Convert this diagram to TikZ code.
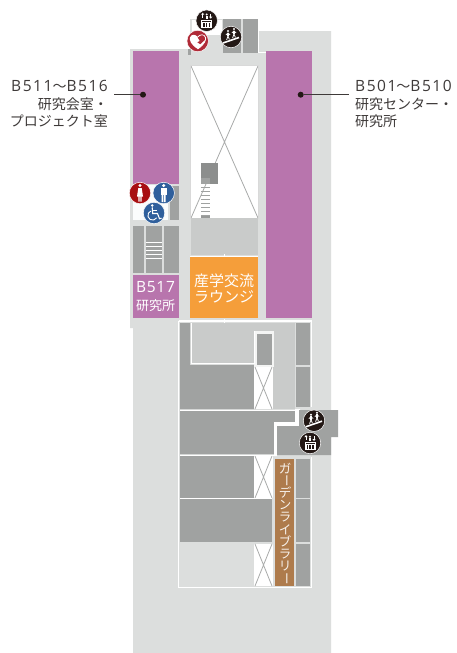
\documentclass[tikz,border=0pt]{standalone}
\usepackage{fontspec}
\setmainfont{Noto Sans CJK JP}
\newfontfamily\latinf[LetterSpace=5]{Open Sans}
\newfontfamily\latinw[LetterSpace=10]{Open Sans}
\definecolor{bgg}{HTML}{DCDEDD}
\definecolor{dkg}{HTML}{A0A2A1}
\definecolor{ltg}{HTML}{C9CBCA}
\definecolor{stg}{HTML}{8C8E8D}
\definecolor{pur}{HTML}{B875AD}
\definecolor{org}{HTML}{F59E3A}
\definecolor{brn}{HTML}{AE7B4C}
\definecolor{txt}{HTML}{3E3A39}
\definecolor{icb}{HTML}{231815}
\definecolor{icr}{HTML}{A80F12}
\definecolor{ica}{HTML}{B02A37}
\definecolor{icn}{HTML}{2F5F9C}
\definecolor{xln}{HTML}{A9ABAA}
\tikzset{
  floor/.style={fill=bgg,draw=none},
  room/.style={fill=dkg,draw=none},
  light/.style={fill=ltg,draw=none},
  void/.style={fill=white,draw=none},
  lab/.style={fill=pur,draw=none},
  wline/.style={draw=white,line width=1.4pt},
  xline/.style={draw=xln,line width=0.8pt},
  dotnode/.style={circle,fill=icb,inner sep=0pt,minimum size=6pt},
  leader/.style={draw=txt,line width=0.7pt},
  sign/.style={circle,draw=white,line width=0.5pt,minimum size=21.5pt,inner sep=0pt},
  glyph/.style={draw=white,line width=0.9pt,fill=none},
  glyphf/.style={fill=white,draw=none},
  caption/.style={text=txt,font=\fontsize{14}{17.5}\selectfont,inner sep=0pt},
  white text/.style={text=white,inner sep=0pt,align=center},
  vchar/.style={text=white!90!brn,inner sep=0pt,font=\fontsize{12.5}{12.5}\selectfont}
}
\newcommand{\latn}[1]{{\latinw\fontsize{15.5}{17.5}\selectfont #1}}
\newcommand{\elevglyph}[1]{%
  \begin{scope}[shift={(#1)}]
    \path[glyphf] (-5.5,-1) rectangle (5.5,7);
    \foreach \xx in {-2.8,0,2.8}{\path[fill=icb] (\xx-0.7,2) rectangle (\xx+0.7,6);}
    \path[fill=icb] (-4.5,0) rectangle (4.5,1);
    \draw[glyph,line width=0.7pt] (-4,-7) -- (-4,-3) (4,-7) -- (4,-3);
    \path[glyphf] (-5.6,-6) -- (-4,-8) -- (-2.4,-6) -- cycle (2.4,-4) -- (4,-2) -- (5.6,-4) -- cycle;
    \path[glyphf] (0,-6.3) circle (1.1);
    \path[glyphf] (-1.2,-5) rectangle (1.2,-2);
  \end{scope}}
\newcommand{\stairglyph}[1]{%
  \begin{scope}[shift={(#1)}]
    \draw[glyph,line width=1.6pt] (-8,6) -- (8,0.5);
    \foreach \xx/\yy in {-3/0,3/-2}{
      \path[glyphf] (\xx,\yy-6) circle (1.2);
      \draw[glyph,line width=1.4pt] (\xx,\yy-4.5) -- (\xx,\yy-1);
      \draw[glyph,line width=0.8pt] (\xx,\yy-1) -- (\xx-1.4,\yy+3) (\xx,\yy-1) -- (\xx+1.4,\yy+2.5);
      \draw[glyph,line width=0.7pt] (\xx-2.2,\yy-2) -- (\xx,\yy-4.2) -- (\xx+2.2,\yy-2);
    }
  \end{scope}}
\begin{document}
\begin{tikzpicture}[x=1pt,y=-1pt]
\useasboundingbox (0,0) rectangle (456,653);
\fill[white] (0,0) rectangle (456,653);
% floor
\path[floor] (133,653) -- (133,328) -- (130,328) -- (130,49) -- (190,49) -- (190,18) -- (258,18) -- (258,31) -- (331,31) -- (331,653) -- cycle;
% top core
\path[void] (192,20) rectangle (222,35);
\path[room] (223,19) rectangle (241,53);
\path[room] (243,19) rectangle (258,53);
\draw[draw=white,line width=1pt] (190,18.5) -- (258.5,18.5) -- (258.5,52) -- (266,52);
\path[room] (188,49) rectangle (191,55);
% purple rooms
\path[lab] (133,51) rectangle (179,184);
\path[lab] (266,51) rectangle (312,318);
\path[lab] (133,275) rectangle (179,318);
% atrium
\path[void] (191,65) rectangle (258,218);
\draw[xline] (191,66) -- (258,218) (258,66) -- (191,218);
\draw[draw=white!85!black,line width=0.8pt] (190.5,65) rectangle (258,218);
\path[fill=stg] (201,163) rectangle (218,184);
\path[fill=dkg] (201,178) rectangle (210,184);
\foreach \yy in {187,191,195,199,203,207,211,215}{\path[fill=dkg] (201,\yy) rectangle (210,\yy+1.2);}
\path[fill=stg!90!white] (201,216) rectangle (210,221);
\path[light] (191,218) rectangle (258,255);
\path[fill=org] (190,257) rectangle (258,318);
\draw[wline,line width=1pt] (190,256) -- (258,256) (224,254) -- (224,257) (224,319) -- (224,323);
% toilets
\path[fill=white!90!bgg] (133,185) rectangle (168,220);
\path[room] (170,186) rectangle (179,220);
% left stairs
\path[room] (133,226) rectangle (144,273);
\path[room] (146,226) rectangle (162,273);
\path[room] (164,226) rectangle (179,273);
\foreach \yy in {242,246,250,254,258}{\path[fill=white] (146,\yy) rectangle (162,\yy+1.2);}
% lower block
\path[room] (180,323) -- (190,323) -- (190,365) -- (254,365) -- (254,409) -- (180,409) -- cycle;
\path[light] (192,323) rectangle (295,363);
\path[light] (254,363) rectangle (295,409);
\path[room] (296,323) rectangle (310,365);
\path[room] (296,367) rectangle (310,407);
\path[void] (254,331) rectangle (274,367);
\path[fill=white!80!ltg] (254,331) rectangle (274,367);
\path[room] (257,334) rectangle (272,365);
\path[void] (254,367) rectangle (273,409);
\draw[xline] (255,367) -- (272,409) (272,367) -- (255,409);
\draw[wline,line width=1pt] (191.5,323) -- (191.5,363.5) -- (254,363.5) -- (254,331);
\path[room] (180,411) -- (295,411) -- (295,422) -- (274,422) -- (274,454) -- (180,454) -- cycle;
\path[void] (274,422) -- (295,422) -- (295,409) -- (300,409) -- (300,426) -- (277,426) -- (277,456) -- (274,456) -- cycle;
\path[room] (299,410) -- (338,410) -- (338,437) -- (331,437) -- (331,455) -- (277,455) -- (277,426) -- (299,426) -- cycle;
\path[room] (180,456) rectangle (254,498);
\path[void] (254,456) rectangle (273,498);
\draw[xline] (255,456) -- (272,498) (272,456) -- (255,498);
\path[room] (180,499) rectangle (271.5,542);
\path[void] (254,544) rectangle (273,586);
\draw[xline] (255,544) -- (272,586) (272,544) -- (255,586);
\path[fill=brn] (275,459) rectangle (294,586);
\path[room] (296,459) rectangle (310,498);
\path[room] (296,499) rectangle (310,542);
\path[room] (296,544) rectangle (310,586);
\draw[wline] (178.5,321) -- (311.5,321) -- (311.5,407);
\draw[wline] (311.5,457) -- (311.5,587.5) -- (178.5,587.5) -- (178.5,321);
\draw[wline,line width=0.8pt] (180,410) -- (295,410) (180,455) -- (274,455) (180,498.5) -- (272,498.5);
% captions
\node[caption,anchor=east,align=right] (ltxt) at (108,104) {\latn{B511}〜\latn{B516}\\研究会室・\\プロジェクト室};
\node[caption,anchor=west,align=left] (rtxt) at (355,104) {\latn{B501}〜\latn{B510}\\研究センター・\\研究所};
\node[white text,font=\fontsize{15}{16}\selectfont] (loungetxt) at (224,288) {産学交流\\ラウンジ};
\node[white text,font=\fontsize{13}{18}\selectfont] (b517txt) at (155.5,297) {{\latinf\fontsize{15.5}{18}\selectfont B517}\\研究所};
% garden library, set vertically
\foreach \ch [count=\i from 0] in {ガ,ー,デ,ン,ラ,イ,ブ,ラ,リ,ー}{
  \node[vchar] (gl\i) at (285,{468.5+\i*12.2}) {\if ー\ch\rotatebox{-90}{\ch}\else\ch\fi};
}
% leaders
\node[dotnode] (dl) at (143,94.7) {};
\node[dotnode] (dr) at (300.7,94.7) {};
\coordinate (ll) at (114,94.7);
\coordinate (lr) at (349,94.7);
\draw[leader] (ll) -- (dl);
\draw[leader] (dr) -- (lr);
% signs
\node[sign,fill=icb] (elev1) at (206.7,20.7) {};
\elevglyph{206.7,20.7}
\node[sign,fill=ica] (aed) at (197.7,41) {};
\path[glyphf] (197.7,49) .. controls (190,44) and (189.5,40) .. (190,37.5) .. controls (191,34) and (195.5,34) .. (197.7,37) .. controls (200,34) and (204.5,34) .. (205.5,37.5) .. controls (206,40) and (205,44) .. (197.7,49) -- cycle;
\path[fill=ica] (197.7,37.5) -- (199.8,41) -- (197.4,42.3) -- (200.3,44.2) -- (207,38) -- (203,33.5) -- cycle;
\draw[draw=white,line width=0.7pt] (197.7,37) .. controls (200,34) and (204.5,34) .. (205.5,37.5) .. controls (206,40) and (205,44) .. (197.7,49);
\node[sign,fill=icb] (st1) at (231,37) {};
\stairglyph{231,37}
\node[sign,fill=icr] (wc1) at (140,193) {};
\path[glyphf] (140,185.5) circle (1.7);
\path[glyphf] (138.3,188) -- (141.7,188) -- (143,196.5) -- (137,196.5) -- cycle;
\path[glyphf] (138.3,196) rectangle (139.6,201.5) (140.4,196) rectangle (141.7,201.5);
\node[sign,fill=icn] (wc2) at (163.7,193) {};
\path[glyphf] (163.7,185.5) circle (1.7);
\path[glyphf] (160.5,188) rectangle (166.9,195);
\path[glyphf] (161.7,194) rectangle (163.4,202) (164,194) rectangle (165.7,202);
\node[sign,fill=icn] (wc3) at (154,213) {};
\path[glyphf] (152.2,205.5) circle (1.4);
\draw[glyph,line width=1.1pt] (152.2,207.5) -- (152.7,213.5) -- (157.5,213.5) -- (159.5,218.7) -- (161.5,218.2);
\draw[glyph,line width=0.9pt] (152.4,210.5) -- (156.5,210.5);
\draw[glyph,line width=0.9pt] (156.6,217.8) arc[start angle=30,end angle=250,radius=4.7];
\node[sign,fill=icb] (st2) at (314,420.7) {};
\stairglyph{314,420.7}
\node[sign,fill=icb] (elev2) at (310,443) {};
\elevglyph{310,443}
\end{tikzpicture}
\end{document}
